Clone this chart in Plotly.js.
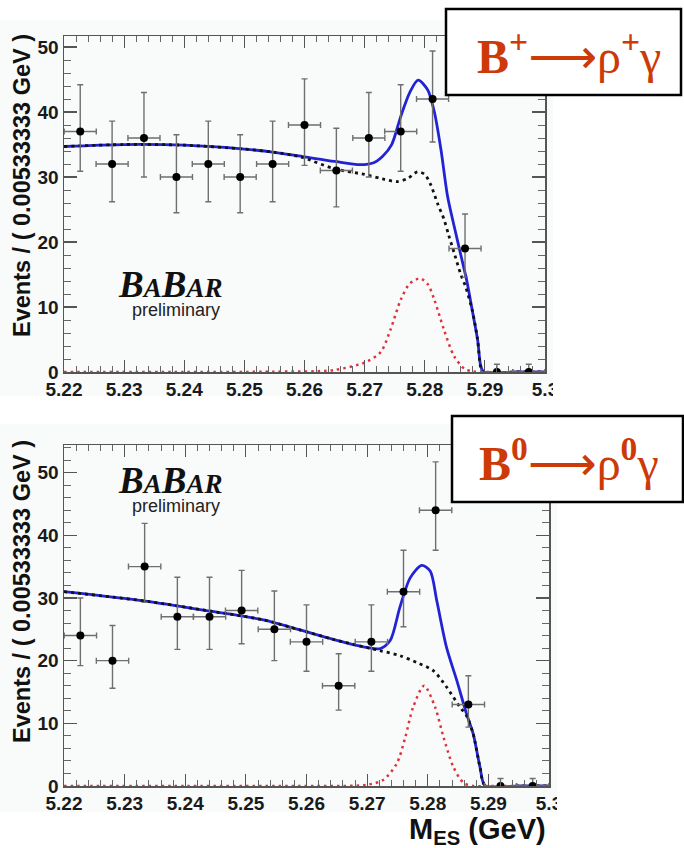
<!DOCTYPE html>
<html>
<head>
<meta charset="utf-8">
<script src="https://cdn.plot.ly/plotly-3.0.1.min.js"></script>
<style>html,body{margin:0;padding:0;background:#fff;}#chart{width:684px;height:848px;}</style>
</head>
<body>
<div id="chart"></div>
<script>
// ---------------- DATA ----------------
const binCenters = [5.2227, 5.2280, 5.2333, 5.2387, 5.2440, 5.2493, 5.2547, 5.2600, 5.2653, 5.2707, 5.2760, 5.2813, 5.2867, 5.2920, 5.2973];
const binHalfWidth = 0.0026667;

// B+ -> rho+ gamma (top)
const topEvents   = [37, 32, 36, 30, 32, 30, 32, 38, 31, 36, 37, 42, 19, 0, 0];
const topErrPlus  = [7.2, 6.6, 7.0, 6.5, 6.6, 6.5, 6.6, 7.1, 6.5, 7.0, 7.2, 7.4, 5.3, 1.2, 1.2];
const topErrMinus = [6.1, 5.8, 6.0, 5.5, 5.8, 5.5, 5.8, 6.2, 5.6, 6.0, 6.1, 6.6, 4.4, 0, 0];

const topTotalX = [5.220, 5.230, 5.240, 5.250, 5.255, 5.260, 5.265, 5.2693, 5.2715, 5.2730, 5.2745, 5.2760, 5.2775, 5.2789, 5.2805, 5.2816, 5.2827, 5.2838, 5.2850, 5.2860, 5.2870, 5.2879, 5.2888, 5.2893, 5.2898, 5.2950, 5.3000];
const topTotalY = [34.7, 35.0, 34.9, 34.3, 33.8, 33.1, 32.4, 31.9, 32.2, 33.2, 35.0, 39.3, 43.0, 44.9, 43.4, 40.0, 34.2, 27.0, 22.0, 18.0, 14.0, 9.5, 4.9, 1.0, 0, 0, 0];

const topBkgX = [5.220, 5.230, 5.240, 5.250, 5.255, 5.2593, 5.2649, 5.2705, 5.2730, 5.2754, 5.2772, 5.2788, 5.2800, 5.2810, 5.2821, 5.2832, 5.2840, 5.2850, 5.2860, 5.2868, 5.2879, 5.2888, 5.2893, 5.2898, 5.2950, 5.3000];
const topBkgY = [34.7, 35.0, 34.9, 34.3, 33.8, 33.1, 31.3, 30.3, 29.7, 29.3, 29.8, 30.8, 30.4, 28.8, 26.0, 23.5, 21.0, 18.0, 15.0, 13.1, 9.5, 4.9, 0.8, 0, 0, 0];

const topSigX = [5.220, 5.240, 5.255, 5.2649, 5.2704, 5.2727, 5.2743, 5.2760, 5.2775, 5.2792, 5.2805, 5.2816, 5.2832, 5.2849, 5.2866, 5.2880, 5.2900, 5.3000];
const topSigY = [0, 0, 0.05, 0.3, 1.6, 3.1, 6.5, 11.1, 13.6, 14.4, 13.5, 11.1, 6.5, 2.4, 0.5, 0.1, 0, 0];

// B0 -> rho0 gamma (bottom)
const botEvents   = [24, 20, 35, 27, 27, 28, 25, 23, 16, 23, 31, 44, 13, 0, 0];
const botErrPlus  = [6.0, 5.6, 6.9, 6.3, 6.3, 6.4, 6.1, 5.9, 5.1, 5.9, 6.6, 7.7, 4.6, 1.2, 1.2];
const botErrMinus = [4.8, 4.4, 5.7, 5.2, 5.2, 5.3, 5.0, 4.7, 3.9, 4.7, 5.6, 6.4, 3.6, 0, 0];

const botTotalX = [5.220, 5.2334, 5.2441, 5.2529, 5.2589, 5.2644, 5.2699, 5.2721, 5.2738, 5.2754, 5.2771, 5.2790, 5.2804, 5.2815, 5.2831, 5.2848, 5.2864, 5.2875, 5.2886, 5.2895, 5.2950, 5.3000];
const botTotalY = [31.0, 29.5, 27.9, 26.5, 24.9, 23.4, 22.1, 21.9, 23.2, 28.5, 33.2, 35.2, 34.3, 29.5, 22.1, 16.8, 11.5, 8.3, 3.1, 0, 0, 0];

const botBkgX = [5.220, 5.2334, 5.2441, 5.2529, 5.2589, 5.2644, 5.2699, 5.2721, 5.2754, 5.2782, 5.2809, 5.2831, 5.2853, 5.2864, 5.2875, 5.2886, 5.2895, 5.2950, 5.3000];
const botBkgY = [31.0, 29.5, 27.9, 26.5, 24.9, 23.4, 22.1, 21.6, 20.8, 19.7, 18.4, 15.8, 12.6, 11.2, 8.3, 3.1, 0, 0, 0];

const botSigX = [5.220, 5.240, 5.260, 5.2700, 5.2727, 5.2749, 5.2763, 5.2776, 5.2794, 5.2812, 5.2826, 5.2842, 5.2859, 5.2875, 5.2900, 5.3000];
const botSigY = [0, 0, 0, 0.2, 1.0, 3.6, 7.8, 12.6, 16.0, 12.6, 7.8, 3.1, 0.5, 0, 0, 0];

const xTickVals = [5.22, 5.23, 5.24, 5.25, 5.26, 5.27, 5.28, 5.29, 5.30];
const xTickText = ['5.22', '5.23', '5.24', '5.25', '5.26', '5.27', '5.28', '5.29', '5.3'];
const yTitle = 'Events / ( 0.00533333 GeV )';
const xTitle = 'M<sub>ES</sub> (GeV)';
const arrow = '<span style="font-family:DejaVu Sans">⟶</span>';
const topLabel = '<b>B</b><sup><b>+</b></sup>' + arrow + 'ρ<sup><b>+</b></sup>γ';
const botLabel = '<b>B</b><sup><b>0</b></sup>' + arrow + 'ρ<sup><b>0</b></sup>γ';

// ---------------- LAYOUT HELPERS ----------------
const W = 684, H = 848;
const PX = x => x / W;
const PY = y => 1 - y / H;

const blue = '#2323d6', red = '#e0313b', dark = '#111111', errCol = '#6f6f6f';

function curves(xa, ya, tx, ty, bx, by, sx, sy) {
  return [
    {x: tx, y: ty, xaxis: xa, yaxis: ya, mode: 'lines', line: {color: blue, width: 2.8, shape: 'spline', smoothing: 0.8}, hoverinfo: 'skip'},
    {x: bx, y: by, xaxis: xa, yaxis: ya, mode: 'lines', line: {color: dark, width: 2.8, dash: '3px,4px', shape: 'spline', smoothing: 0.8}, hoverinfo: 'skip'},
    {x: sx, y: sy, xaxis: xa, yaxis: ya, mode: 'lines', line: {color: red, width: 2.5, dash: '2.5px,4px', shape: 'spline', smoothing: 0.8}, hoverinfo: 'skip'}
  ];
}
function points(xa, ya, ev, ep, em) {
  return {
    x: binCenters, y: ev, xaxis: xa, yaxis: ya, mode: 'markers',
    marker: {color: '#000', size: 8},
    error_y: {type: 'data', symmetric: false, array: ep, arrayminus: em, color: errCol, thickness: 1.4, width: 3},
    error_x: {type: 'constant', value: binHalfWidth, color: errCol, thickness: 1.4, width: 3}
  };
}

const data = [
  ...curves('x', 'y', topTotalX, topTotalY, topBkgX, topBkgY, topSigX, topSigY),
  points('x', 'y', topEvents, topErrPlus, topErrMinus),
  ...curves('x2', 'y2', botTotalX, botTotalY, botBkgX, botBkgY, botSigX, botSigY),
  points('x2', 'y2', botEvents, botErrPlus, botErrMinus)
];

const tickFont = {family: 'Liberation Sans, Arial, sans-serif', size: 19, color: '#1a1a1a', weight: 'bold'};
function xAxis(domain, anchor) {
  return {
    domain: domain, anchor: anchor, range: [5.22, 5.30], tickvals: xTickVals, ticktext: xTickText,
    ticks: 'inside', ticklen: 12, tickwidth: 1.2, tickcolor: '#555',
    minor: {dtick: 0.002, ticks: 'inside', ticklen: 6, tickwidth: 1, tickcolor: '#666', showgrid: false},
    showline: true, linecolor: '#555', linewidth: 1.5, mirror: 'ticks',
    showgrid: false, zeroline: false, tickfont: tickFont, fixedrange: true
  };
}
function yAxis(domain, anchor, top) {
  return {
    domain: domain, anchor: anchor, range: [0, top], dtick: 10, tick0: 0,
    ticks: 'inside', ticklen: 13, tickwidth: 1.2, tickcolor: '#555',
    minor: {dtick: 2, ticks: 'inside', ticklen: 7, tickwidth: 1, tickcolor: '#666', showgrid: false},
    showline: true, linecolor: '#555', linewidth: 1.5, mirror: 'ticks',
    showgrid: false, zeroline: false, tickfont: tickFont, fixedrange: true
  };
}

const boxStyle = {type: 'rect', xref: 'paper', yref: 'paper', line: {color: '#000', width: 2.5}, fillcolor: '#fff', layer: 'above'};
const whiteRect = {type: 'rect', xref: 'paper', yref: 'paper', line: {width: 0}, fillcolor: '#fff', layer: 'above'};
const canvasRect = {type: 'rect', xref: 'paper', yref: 'paper', line: {width: 0}, fillcolor: '#f9fafa', layer: 'below'};

const babar = '<b><i>B<span style="font-size:27px">A</span>B<span style="font-size:27px">AR</span></i></b>';
const serif = 'Liberation Serif, Times New Roman, serif';
const sans = 'Liberation Sans, Arial, sans-serif';

const layout = {
  width: W, height: H, margin: {l: 0, r: 0, t: 0, b: 0},
  paper_bgcolor: '#ffffff', plot_bgcolor: '#fbfcfc', showlegend: false,
  xaxis: xAxis([PX(64), PX(545)], 'y'),
  yaxis: yAxis([PY(372), PY(36)], 'x', 51.7),
  xaxis2: xAxis([PX(64), PX(549)], 'y2'),
  yaxis2: yAxis([PY(786), PY(445)], 'x2', 54.4),
  shapes: [
    Object.assign({}, canvasRect, {x0: 0, x1: PX(553), y0: PY(396), y1: PY(20)}),
    Object.assign({}, canvasRect, {x0: 0, x1: PX(557), y0: PY(812), y1: PY(424)}),
    Object.assign({}, whiteRect, {x0: PX(553), x1: PX(620), y0: PY(398), y1: PY(374)}),
    Object.assign({}, whiteRect, {x0: PX(557), x1: PX(620), y0: PY(812), y1: PY(788)}),
    Object.assign({}, boxStyle, {x0: PX(446), x1: PX(681), y0: PY(95), y1: PY(9)}),
    Object.assign({}, boxStyle, {x0: PX(452), x1: PX(683), y0: PY(502), y1: PY(416)})
  ],
  annotations: [
    {xref: 'paper', yref: 'paper', x: PX(22), y: PY(186), text: yTitle, textangle: -90, showarrow: false,
     font: {family: sans, size: 23.5, color: '#111', weight: 'bold'}, xanchor: 'center', yanchor: 'middle'},
    {xref: 'paper', yref: 'paper', x: PX(22), y: PY(592), text: yTitle, textangle: -90, showarrow: false,
     font: {family: sans, size: 23.5, color: '#111', weight: 'bold'}, xanchor: 'center', yanchor: 'middle'},
    {xref: 'paper', yref: 'paper', x: PX(548), y: PY(831), text: xTitle, showarrow: false,
     font: {family: sans, size: 29, color: '#111', weight: 'bold'}, xanchor: 'right', yanchor: 'middle'},
    {xref: 'paper', yref: 'paper', x: PX(170), y: PY(284), text: babar, showarrow: false,
     font: {family: serif, size: 37, color: '#111'}, xanchor: 'center', yanchor: 'middle'},
    {xref: 'paper', yref: 'paper', x: PX(176), y: PY(310), text: 'preliminary', showarrow: false,
     font: {family: sans, size: 18, color: '#222'}, xanchor: 'center', yanchor: 'middle'},
    {xref: 'paper', yref: 'paper', x: PX(170), y: PY(480), text: babar, showarrow: false,
     font: {family: serif, size: 37, color: '#111'}, xanchor: 'center', yanchor: 'middle'},
    {xref: 'paper', yref: 'paper', x: PX(176), y: PY(506), text: 'preliminary', showarrow: false,
     font: {family: sans, size: 18, color: '#222'}, xanchor: 'center', yanchor: 'middle'},
    {xref: 'paper', yref: 'paper', x: PX(569), y: PY(53), text: topLabel, showarrow: false,
     font: {family: serif, size: 48, color: '#cc3a08'}, xanchor: 'center', yanchor: 'middle'},
    {xref: 'paper', yref: 'paper', x: PX(569), y: PY(460), text: botLabel, showarrow: false,
     font: {family: serif, size: 48, color: '#cc3a08'}, xanchor: 'center', yanchor: 'middle'}
  ]
};

Plotly.newPlot('chart', data, layout, {staticPlot: true, displayModeBar: false});
</script>
</body>
</html>
